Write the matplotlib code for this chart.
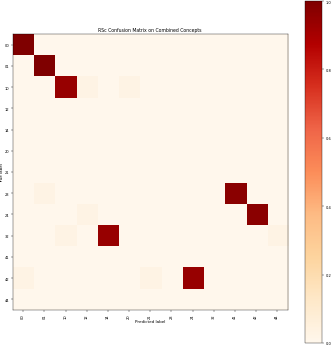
import matplotlib
matplotlib.use("Agg")
import matplotlib.pyplot as plt
import numpy as np

# class labels (true and predicted share the same set)
labels = ["00", "01", "10", "12", "14", "20", "21", "23", "24", "32", "41", "42", "44"]

# row-normalised confusion values: (true row, predicted col, value)
rows = [0, 1, 2, 2, 2, 7, 7, 8, 8, 9, 9, 9, 11, 11, 11]
cols = [0, 1, 2, 3, 5, 1, 10, 3, 11, 2, 4, 12, 0, 6, 8]
vals = [1.0, 1.0, 0.94, 0.03, 0.03, 0.03, 0.97, 0.03, 0.97, 0.03, 0.94, 0.03, 0.03, 0.03, 0.94]

cm = np.zeros((len(labels), len(labels)))
cm[rows, cols] = vals

fig = plt.figure(figsize=(10, 10.45), dpi=33.2)
ax = fig.add_axes([0.038, 0.104, 0.829, 0.795])
cax = fig.add_axes([0.919, 0.009, 0.051, 0.985])

im = ax.imshow(cm, cmap="OrRd", vmin=0, vmax=1, aspect="auto")
ax.set_xticks(range(len(labels)))
ax.set_xticklabels(labels, rotation=90, fontsize=8)
ax.set_yticks(range(len(labels)))
ax.set_yticklabels(labels, fontsize=8)
ax.set_xlabel("Predicted label", fontsize=9, labelpad=2)
ax.set_ylabel("True label", fontsize=9, labelpad=1)
ax.set_title("RSc Confusion Matrix on Combined Concepts", fontsize=10)

cb = fig.colorbar(im, cax=cax)
cb.ax.tick_params(labelsize=8)

fig.savefig("out.png", dpi=33.2)
